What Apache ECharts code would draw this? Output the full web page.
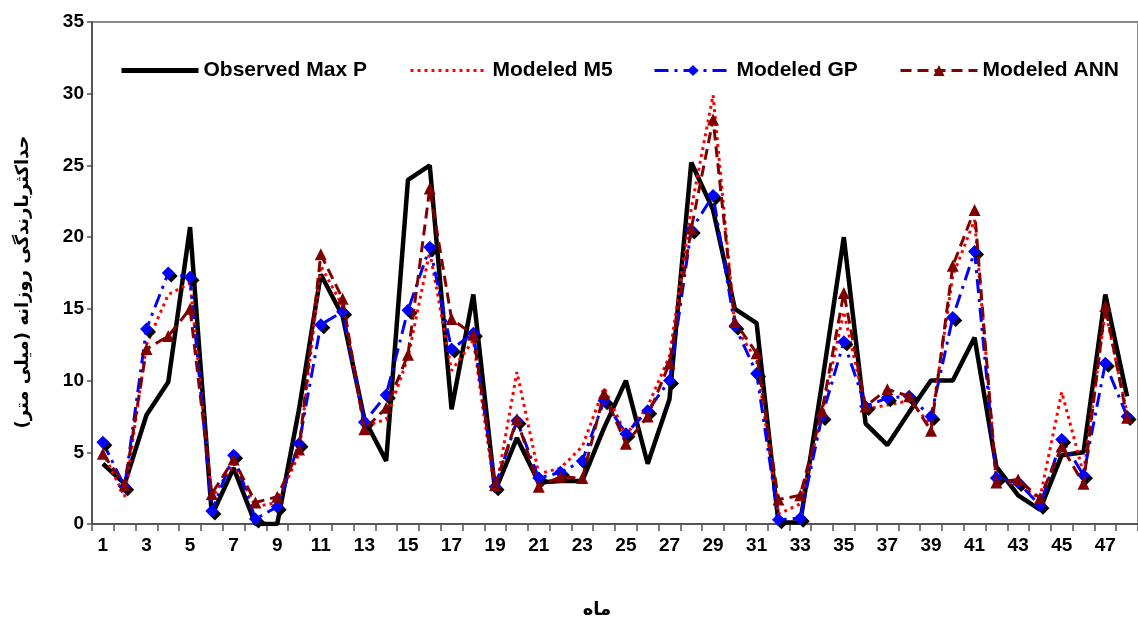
<!DOCTYPE html>
<html>
<head>
<meta charset="utf-8">
<script src="https://cdn.jsdelivr.net/npm/echarts@6/dist/echarts.min.js"></script>
<style>
html,body{margin:0;padding:0;background:#fff;}
#chart{width:1138px;height:622px;}
</style>
</head>
<body>
<div id="chart"></div>
<script>
var months = [];
for (var m = 1; m <= 48; m++) { months.push(String(m)); }

var observedMaxP = [4.2, 2.8, 7.6, 9.9, 20.7, 0.6, 3.9, 0, 0, 8.0, 17.4, 14.5, 7.3, 4.4, 24.0, 25.0, 8.0, 16.0, 2.3, 6.0, 2.9, 3.0, 3.0, 6.7, 10.0, 4.2, 8.7, 25.2, 21.9, 15.0, 14.0, 0.1, 0.1, 9.8, 20.0, 7.0, 5.5, 7.8, 10.0, 10.0, 13.0, 4.0, 2.0, 1.0, 4.8, 5.0, 16.0, 8.9];
var modeledM5 = [5.0, 1.9, 12.5, 16.0, 16.8, 1.8, 4.2, 1.2, 1.5, 4.9, 18.0, 15.2, 6.8, 7.3, 11.6, 19.0, 10.7, 12.8, 2.1, 10.6, 3.5, 3.9, 5.4, 9.5, 6.2, 8.2, 11.7, 22.0, 29.9, 13.8, 11.4, 0.7, 1.4, 7.7, 14.8, 8.0, 8.3, 8.6, 6.9, 17.3, 21.2, 3.2, 2.7, 1.8, 9.2, 3.5, 14.9, 7.7];
var modeledGP = [5.7, 2.6, 13.6, 17.5, 17.2, 0.9, 4.8, 0.35, 1.2, 5.6, 13.9, 14.8, 7.1, 9.0, 14.9, 19.3, 12.2, 13.3, 2.6, 7.2, 3.2, 3.6, 4.4, 8.6, 6.3, 7.9, 10.0, 20.5, 22.9, 13.8, 10.5, 0.3, 0.4, 7.5, 12.7, 8.2, 8.8, 8.9, 7.5, 14.4, 19.0, 3.2, 2.9, 1.3, 5.9, 3.4, 11.2, 7.5];
var modeledANN = [4.9, 2.7, 12.2, 13.1, 15.0, 2.1, 4.5, 1.5, 1.9, 5.2, 18.8, 15.7, 6.6, 8.1, 11.8, 23.4, 14.3, 13.2, 2.7, 7.3, 2.6, 3.3, 3.2, 9.1, 5.6, 7.5, 11.2, 20.6, 28.2, 14.1, 11.9, 1.7, 2.0, 7.9, 16.1, 8.2, 9.4, 8.9, 6.5, 18.0, 21.9, 2.9, 3.1, 1.8, 5.4, 2.8, 15.2, 7.4];

var seriesNames = ['Observed Max P', 'Modeled M5', 'Modeled GP', 'Modeled ANN'];
var yTitle = 'حداکثربارندگی روزانه (میلی متر)';
var xTitle = 'ماه';

var chart = echarts.init(document.getElementById('chart'), null, {renderer: 'canvas'});
var FONT = '"Liberation Sans", Arial, sans-serif';
var legendText = {fontFamily: FONT, fontWeight: 'bold', fontSize: 21, color: '#000'};
function lg(name, left, hideSymbol, lineWidth) {
  var item = {name: name};
  if (hideSymbol) { item.itemStyle = {opacity: 0}; }
  return {
    data: [item], left: left, top: 60, padding: 0, itemWidth: 77, itemHeight: 14,
    lineStyle: {width: lineWidth},
    textStyle: legendText, selectedMode: false
  };
}

var option = {
  animation: false,
  backgroundColor: '#fff',
  grid: {
    left: 92, top: 22, width: 1056, height: 502,
    show: true, borderColor: '#8a8a8a', borderWidth: 2
  },
  legend: [
    lg(seriesNames[0], 119, true, 5),
    lg(seriesNames[1], 409, true, 3),
    lg(seriesNames[2], 653, false, 3),
    lg(seriesNames[3], 899, false, 3)
  ],
  xAxis: {
    type: 'category',
    data: months,
    boundaryGap: true,
    axisLine: {lineStyle: {color: '#555', width: 2}},
    axisTick: {show: true, interval: 0, length: 7, lineStyle: {color: '#555', width: 1.5}},
    axisLabel: {interval: 1, margin: 12, fontFamily: FONT, fontWeight: 'bold', fontSize: 19, color: '#000'},
    splitLine: {show: false}
  },
  yAxis: {
    type: 'value',
    min: 0, max: 35, interval: 5,
    axisLine: {show: true, lineStyle: {color: '#555', width: 2}},
    axisTick: {show: true, length: 5, lineStyle: {color: '#555', width: 1.5}},
    axisLabel: {margin: 8, fontFamily: FONT, fontWeight: 'bold', fontSize: 19, color: '#000'},
    splitLine: {show: false}
  },
  graphic: [
    {
      type: 'text', x: 23, y: 282, rotation: Math.PI / 2,
      style: {text: yTitle, fontFamily: '"DejaVu Sans", sans-serif', fontWeight: 'bold', fontSize: 18,
              fill: '#000', textAlign: 'center', textVerticalAlign: 'middle'}
    },
    {
      type: 'text', x: 597, y: 610,
      style: {text: xTitle, fontFamily: '"DejaVu Sans", sans-serif', fontWeight: 'bold', fontSize: 18,
              fill: '#000', textAlign: 'center', textVerticalAlign: 'middle'}
    }
  ],
  series: [
    {
      name: seriesNames[0], type: 'line', data: observedMaxP,
      symbol: 'none', showSymbol: false,
      lineStyle: {color: '#000', width: 4.5, type: 'solid'},
      itemStyle: {color: '#000'}, z: 2
    },
    {
      name: seriesNames[1], type: 'line', data: modeledM5,
      symbol: 'none', showSymbol: false,
      lineStyle: {color: '#ff0000', width: 3, type: [3, 4]},
      itemStyle: {color: '#ff0000'}, z: 3
    },
    {
      name: seriesNames[2], type: 'line', data: modeledGP,
      symbol: 'diamond', symbolSize: 13,
      lineStyle: {color: '#0000ff', width: 3, type: [14, 6, 3, 6]},
      itemStyle: {color: '#0000ff', shadowColor: '#000', shadowOffsetX: 3, shadowOffsetY: 3, shadowBlur: 0}, z: 4
    },
    {
      name: seriesNames[3], type: 'line', data: modeledANN,
      symbol: 'triangle', symbolSize: 12,
      lineStyle: {color: '#800000', width: 3, type: [11, 6]},
      itemStyle: {color: '#800000'}, z: 5
    }
  ]
};
chart.setOption(option);
</script>
</body>
</html>
